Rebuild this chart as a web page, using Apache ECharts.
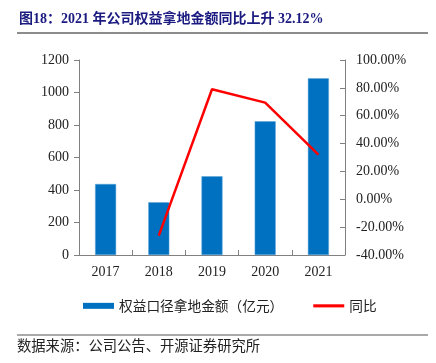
<!DOCTYPE html>
<html><head><meta charset="utf-8">
<script src="https://cdn.jsdelivr.net/npm/echarts@6/dist/echarts.min.js"></script>
<style>html,body{margin:0;padding:0;background:#fff}#c{width:436px;height:363px}</style>
</head><body><div id="c"></div>
<script>
var categories = ['2017','2018','2019','2020','2021'];
var landValues = [437, 324, 484, 823, 1087];
var yoyValues = [null, -26.1, 79.0, 69.4, 32.12];
var leftTicks = [0, 200, 400, 600, 800, 1000, 1200];
var rightTicks = [-40, -20, 0, 20, 40, 60, 80, 100];

var serif = '"Liberation Serif","Times New Roman",serif';
var cjk = '"Noto Sans CJK SC","Liberation Serif",serif';
var chart = echarts.init(document.getElementById('c'));
chart.setOption({
  animation: false,
  backgroundColor: '#fff',
  grid: {left: 79, right: 91, top: 60, bottom: 108, containLabel: false},
  legend: {
    left: 78, top: 294, itemGap: 30, itemWidth: 31, itemHeight: 6,
    textStyle: {fontFamily: cjk, fontSize: 13.7, color: '#222'},
    data: [
      {name: '权益口径拿地金额（亿元）', icon: 'rect', itemStyle: {borderWidth: 0}},
      {name: '同比', icon: 'path://M0,0 L10,0 L10,1 L0,1 Z'}
    ]
  },
  xAxis: {
    type: 'category', data: categories,
    axisLine: {lineStyle: {color: '#808080', width: 1}},
    axisTick: {show: true, inside: true, length: 5, lineStyle: {color: '#808080'}},
    axisLabel: {fontFamily: serif, fontSize: 14, color: '#222', margin: 10}
  },
  yAxis: [
    {
      type: 'value', min: leftTicks[0], max: leftTicks[leftTicks.length-1], interval: 200,
      axisLine: {show: true, lineStyle: {color: '#808080'}},
      axisTick: {show: true, length: 5, lineStyle: {color: '#808080'}},
      splitLine: {show: false},
      axisLabel: {fontFamily: serif, fontSize: 14, color: '#222', margin: 10,
        formatter: function(v){ return String(v); }}
    },
    {
      type: 'value', min: rightTicks[0], max: rightTicks[rightTicks.length-1], interval: 20,
      position: 'right',
      axisLine: {show: true, lineStyle: {color: '#808080'}},
      axisTick: {show: true, inside: true, length: 5, lineStyle: {color: '#808080'}},
      splitLine: {show: false},
      axisLabel: {fontFamily: serif, fontSize: 14, color: '#222', margin: 11,
        formatter: function(v){ return v.toFixed(2) + '%'; }}
    }
  ],
  series: [
    {
      name: '权益口径拿地金额（亿元）', type: 'bar', data: landValues, barWidth: 21,
      itemStyle: {color: '#0070C0', borderColor: '#5ba3d9', borderWidth: 0.5}
    },
    {
      name: '同比', type: 'line', yAxisIndex: 1, data: yoyValues,
      symbol: 'none', lineStyle: {color: '#FF0000', width: 2.5}, itemStyle: {color: '#FF0000'}
    }
  ],
  graphic: [
    {type: 'text', left: 19, top: 12, style: {text: '图18：2021 年公司权益拿地金额同比上升 32.12%',
      fontFamily: '"Liberation Serif","Noto Sans CJK SC",serif', fontWeight: 'bold', fontSize: 14, fill: '#1a1a80'}},
    {type: 'rect', shape: {x: 17, y: 32, width: 411, height: 2}, style: {fill: '#8c8c8c'}},
    {type: 'rect', shape: {x: 17, y: 334.5, width: 411, height: 1}, style: {fill: '#555'}},
    {type: 'text', left: 17, top: 338, style: {text: '数据来源：公司公告、开源证券研究所',
      fontFamily: cjk, fontSize: 14.3, fill: '#222'}}
  ]
});
</script></body></html>
